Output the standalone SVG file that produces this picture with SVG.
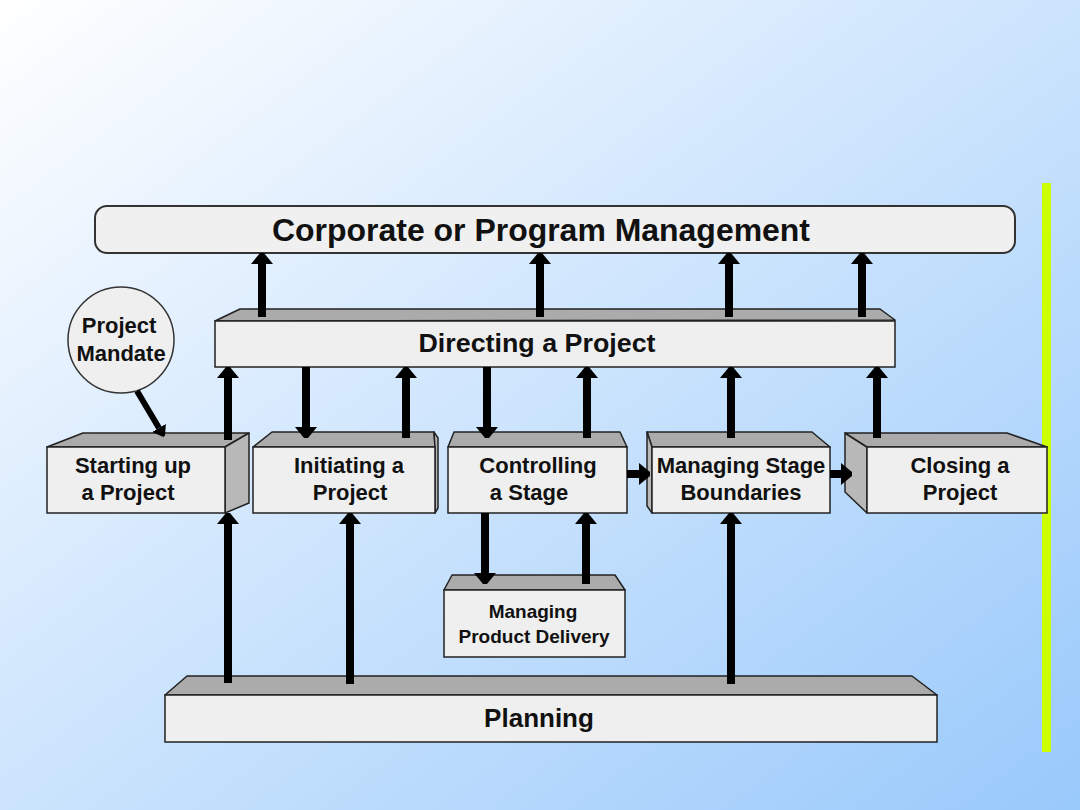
<svg xmlns="http://www.w3.org/2000/svg" width="1080" height="810" viewBox="0 0 1080 810">
<defs>
<linearGradient id="bg" x1="0" y1="0" x2="1" y2="1">
<stop offset="0" stop-color="#ffffff"/>
<stop offset="1" stop-color="#99c9fb"/>
</linearGradient>
<marker id="ah" viewBox="0 -12 12 24" refX="0" refY="0" markerWidth="12" markerHeight="24" markerUnits="userSpaceOnUse" orient="auto">
<path d="M0,-11 L11,-2 L11,2 L0,11 Z" fill="#000"/>
</marker>
<marker id="ahs" viewBox="0 -9 10 18" refX="0" refY="0" markerWidth="10" markerHeight="18" markerUnits="userSpaceOnUse" orient="auto">
<path d="M0,-8 L10,-1 L10,1 L0,8 Z" fill="#000"/>
</marker>
</defs>
<style>
.front{fill:#efefef;stroke:#222;stroke-width:1.5}
.top{fill:#ababab;stroke:#222;stroke-width:1.5;stroke-linejoin:round}
.side{fill:#b8b8b8;stroke:#222;stroke-width:1.5;stroke-linejoin:round}
.t{font-family:"Liberation Sans",Arial,sans-serif;font-weight:bold;fill:#111;text-anchor:middle}
.big{font-size:32px}
.mid{font-size:26px}
.box{font-size:22px}
.sm{font-size:19px}
.arr{stroke:#000;stroke-width:8;fill:none;marker-end:url(#ah)}
</style>
<rect x="0" y="0" width="1080" height="810" fill="url(#bg)"/>
<rect x="1042" y="183" width="9" height="569" fill="#ccff00"/>

<g id="corporate">
<rect x="95" y="206" width="920" height="47" rx="12" fill="#f0f0f0" stroke="#333" stroke-width="2"/>
<text class="t big" x="541" y="241" textLength="538" lengthAdjust="spacingAndGlyphs">Corporate or Program Management</text>
</g>

<g id="directing">
<polygon class="top" points="215,321 240,309 880,309 895,320"/>
<rect class="front" x="215" y="321" width="680" height="46"/>
<text class="t mid" x="537" y="352" textLength="237" lengthAdjust="spacingAndGlyphs">Directing a Project</text>
</g>

<g id="mandate">
<circle cx="121" cy="340" r="53" fill="#efefef" stroke="#333" stroke-width="1.5"/>
<text class="t" x="119" y="333" style="font-size:22px">Project</text>
<text class="t" x="121" y="361" style="font-size:22px">Mandate</text>
</g>

<g id="starting">
<polygon class="top" points="47,447 83,433 249,433 225,447"/>
<polygon class="side" points="225,447 249,433 249,503 225,513"/>
<rect class="front" x="47" y="447" width="178" height="66"/>
<text class="t box" x="133" y="473">Starting up</text>
<text class="t box" x="128" y="500">a Project</text>
</g>

<g id="initiating">
<polygon class="top" points="253,447 272,432 434,432 435,447"/>
<polygon class="side" points="435,447 434,432 438,438 438,508 435,513"/>
<rect class="front" x="253" y="447" width="182" height="66"/>
<text class="t box" x="349" y="473">Initiating a</text>
<text class="t box" x="350" y="500">Project</text>
</g>

<g id="controlling">
<polygon class="top" points="448,447 454,432 620,432 627,447"/>
<rect class="front" x="448" y="447" width="179" height="66"/>
<text class="t box" x="538" y="473">Controlling</text>
<text class="t box" x="529" y="500">a Stage</text>
</g>

<g id="stage-boundaries">
<polygon class="top" points="652,447 647,432 812,432 830,447"/>
<polygon class="side" points="647,432 652,447 652,513 647,506"/>
<rect class="front" x="652" y="447" width="178" height="66"/>
<text class="t box" x="741" y="473">Managing Stage</text>
<text class="t box" x="741" y="500">Boundaries</text>
</g>

<g id="closing">
<polygon class="side" points="845,433 867,447 867,513 845,492"/>
<polygon class="top" points="845,433 1007,433 1047,447 867,447"/>
<rect class="front" x="867" y="447" width="180" height="66"/>
<text class="t box" x="960" y="473">Closing a</text>
<text class="t box" x="960" y="500">Project</text>
</g>

<g id="product-delivery">
<polygon class="top" points="444,590 452,575 615,575 625,590"/>
<rect class="front" x="444" y="590" width="181" height="67"/>
<text class="t sm" x="533" y="618">Managing</text>
<text class="t sm" x="534" y="643">Product Delivery</text>
</g>

<g id="planning">
<polygon class="top" points="165,695 187,676 912,676 937,695"/>
<rect class="front" x="165" y="695" width="772" height="47"/>
<text class="t mid" x="539" y="727">Planning</text>
</g>

<g id="connectors">
<line class="arr" x1="262" y1="317" x2="262" y2="264"/>
<line class="arr" x1="540" y1="317" x2="540" y2="264"/>
<line class="arr" x1="729" y1="317" x2="729" y2="264"/>
<line class="arr" x1="862" y1="317" x2="862" y2="264"/>

<line class="arr" x1="228" y1="440" x2="228" y2="378"/>
<line class="arr" x1="406" y1="438" x2="406" y2="378"/>
<line class="arr" x1="587" y1="438" x2="587" y2="378"/>
<line class="arr" x1="731" y1="438" x2="731" y2="378"/>
<line class="arr" x1="877" y1="438" x2="877" y2="378"/>

<line class="arr" x1="306" y1="367" x2="306" y2="427"/>
<line class="arr" x1="487" y1="367" x2="487" y2="427"/>

<line class="arr" x1="627" y1="474" x2="639" y2="474"/>
<line class="arr" x1="830" y1="474" x2="841" y2="474"/>

<line class="arr" x1="485" y1="513" x2="485" y2="573"/>
<line class="arr" x1="586" y1="584" x2="586" y2="524"/>

<line class="arr" x1="228" y1="683" x2="228" y2="524"/>
<line class="arr" x1="350" y1="684" x2="350" y2="524"/>
<line class="arr" x1="731" y1="684" x2="731" y2="524"/>

<line x1="137" y1="391" x2="159" y2="428" stroke="#000" stroke-width="6" marker-end="url(#ahs)"/>
</g>
</svg>
